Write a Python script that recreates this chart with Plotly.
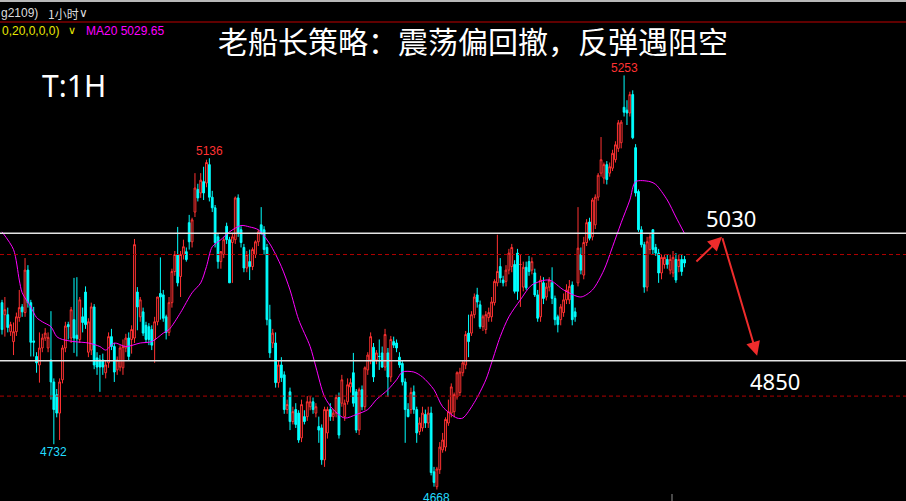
import plotly.graph_objects as go

# ---------------- data (1H candles) ----------------
opens = [
    4932,4915,4915,4891,4877,4891,4911,4926,4918,4978, 4932,4878,4856,4844,4868,4882,4868,4851,4820,4802,
    4776,4823,4868,4901,4882,4908,4886,4880,4912,4947, 4862,4865,4926,4854,4851,4851,4833,4847,4884,4870,
    4837,4841,4840,4868,4882,4880,4882,
    4947,4912,4919,4900,4898,4894,4880,4905,4945,4943, 4912,4890,4932,4976,5000,4969,5000,5004,5045,5018,
    5060,5092,5087,5103,5101,5127,5081,5066,5025,4990, 5000,5040,5021,5017,5021,5080,5035,5010,4981,4990,
    4983,5000,5018,5042,5035,
    5010,4908,4875,4875,4819,4844,4830,4781,4806,4764, 4781,4776,4741,4771,4771,4785,4792,4776,4757,4755,
    4710,4748,4781,4771,4776,4798,4790,4771,4792,4813, 4833,4806,4752,4809,4785,4837,4851,4869,4851,4856,
    4861,4841,4861,4827,4877,4875,4855,4846,4820,
    4781,4781,4806,4781,4750,4755,4774,4762,4776,4693, 4672,4696,4724,4728,4762,4776,4778,4799,4805,4833,
    4844,4889,4889,4915,4943,4929,4898,4894,4911,4912, 4932,4960,4983,4964,4962,4978,
    4983,4986,5002,4986,4954,4982,4990,4978,4974,4943, 4912,4960,4940,4954,4960,4938,4912,
    4908,4918,4936,4936,4957,4919,4960,5000,4971,5017, 5046,5025,5042,5081,5115,5108,5127,5115,5122,5134,
    5150,5158,5208,5204,5200,5226,5151,5089,5035,5014, 4954,5007,5035,5010,5002,4974,4986,4993,4978,4974,
    4993,4983,4993,4993,
]
highs = [
    4936,4940,4925,4905,4904,4918,4950,4930,4995,4985, 4936,4926,4862,4890,4888,4896,4890,4920,4825,4810,
    4825,4872,4905,4905,4926,4967,4968,4940,4925,4955, 4910,4932,4930,4862,4858,4860,4850,4890,4895,4875,
    4856,4872,4880,4888,4890,4900,5022,
    4954,4940,4925,4905,4903,4900,4912,4940,4996,4950, 4915,4940,4980,5005,5039,5005,5021,5010,5056,5052,
    5115,5100,5115,5124,5134,5136,5090,5070,5030,5005, 5025,5045,5025,5030,5082,5085,5040,5015,5005,5007,
    5010,5020,5035,5067,5040,
    5015,4929,4895,4890,4850,4855,4835,4795,4812,4785, 4790,4780,4795,4780,4800,4800,4798,4790,4771,4760,
    4785,4785,4790,4782,4802,4805,4830,4795,4825,4825, 4861,4810,4812,4815,4842,4862,4890,4875,4865,4880,
    4870,4895,4868,4885,4884,4880,4862,4850,4825,
    4790,4812,4815,4785,4770,4785,4781,4785,4785,4700, 4700,4735,4748,4770,4795,4818,4805,4835,4840,4850,
    4892,4915,4920,4945,4953,4935,4915,4920,4925,4940, 4965,5028,4995,4970,4985,5008,
    5015,4992,5008,5000,4990,4990,4998,4996,4980,4950, 4970,4968,4960,4968,4982,4942,4915,
    4930,4945,4958,4964,4962,4925,5067,5010,5025,5050, 5052,5080,5085,5115,5166,5130,5132,5130,5148,5160,
    5190,5190,5253,5218,5230,5232,5156,5092,5040,5018, 5025,5030,5036,5015,5008,5000,5000,5000,5000,5005,
    5002,5000,5000,4998,
]
lows = [
    4887,4884,4890,4885,4858,4885,4905,4912,4912,4925, 4856,4856,4833,4819,4862,4878,4862,4795,4732,4770,
    4738,4818,4862,4880,4875,4861,4856,4875,4890,4895, 4855,4858,4838,4830,4806,4830,4825,4840,4865,4820,
    4830,4835,4830,4862,4850,4860,4875,
    4893,4905,4885,4875,4872,4865,4847,4900,4908,4905, 4880,4885,4925,4970,4955,4940,4993,4990,5007,5010,
    5053,5075,5080,5077,5095,5075,5060,5010,4980,4980, 4995,5015,4960,4960,5015,5025,5010,4975,4975,4964,
    4978,4995,5012,5028,5000,
    4900,4854,4868,4812,4812,4820,4775,4775,4752,4760, 4755,4734,4735,4760,4765,4780,4775,4770,4734,4703,
    4700,4740,4765,4765,4770,4740,4785,4765,4788,4805, 4785,4748,4745,4780,4780,4830,4845,4820,4845,4837,
    4840,4836,4799,4820,4868,4862,4840,4815,4734,
    4770,4775,4775,4734,4745,4750,4755,4755,4688,4672, 4668,4690,4720,4722,4758,4770,4770,4795,4800,4828,
    4838,4855,4885,4910,4925,4895,4892,4888,4905,4905, 4928,4955,4960,4955,4955,4972,
    4975,4945,4936,4926,4948,4950,4970,4972,4940,4905, 4905,4930,4935,4948,4930,4900,4890,
    4900,4912,4930,4930,4900,4905,4955,4972,4965,5012, 5020,5020,5036,5076,5110,5100,5099,5110,5118,5130,
    5145,5150,5195,5183,5195,5163,5082,5032,5010,4946, 4948,5000,5000,4998,4960,4965,4980,4980,4972,4968,
    4960,4975,4970,4982,
]
closes = [
    4894,4922,4897,4901,4891,4912,4925,4919,4978,4932, 4876,4876,4847,4868,4882,4889,4883,4820,4781,4776,
    4820,4868,4899,4898,4922,4882,4881,4936,4904,4901, 4905,4926,4844,4841,4841,4841,4844,4884,4870,4834,
    4851,4868,4870,4882,4856,4894,5014,
    4926,4936,4889,4880,4880,4872,4905,4940,4940,4910, 4890,4932,4976,5000,4960,5000,5011,4993,5018,5049,
    5094,5080,5105,5087,5130,5081,5066,5017,4990,5004, 5021,5021,4960,5025,5080,5030,5017,4981,5000,4983,
    5007,5018,5032,5031,5007,
    4908,4861,4889,4819,4844,4826,4781,4788,4764,4778, 4760,4738,4788,4764,4792,4792,4781,4785,4752,4710,
    4781,4781,4771,4776,4798,4745,4823,4790,4816,4819, 4790,4752,4809,4785,4840,4858,4884,4827,4861,4856,
    4841,4887,4827,4880,4872,4868,4844,4820,4781,
    4771,4805,4781,4748,4762,4776,4762,4776,4692,4678, 4697,4728,4738,4767,4778,4813,4802,4833,4834,4847,
    4887,4877,4915,4940,4933,4898,4912,4915,4918,4933, 4962,4976,4967,4960,4978,5002,
    5010,4948,4948,4986,4982,4953,4976,4990,4943,4910, 4964,4938,4954,4964,4938,4908,4901,
    4926,4936,4950,4955,4908,4912,5009,4978,5017,5045, 5023,5077,5081,5112,5134,5127,5106,5124,5143,5155,
    5186,5187,5201,5200,5226,5165,5087,5035,5014,4954, 5018,5025,5007,5002,4974,4996,4996,4986,4993,4996,
    4964,4993,4976,4988,
]

# MA20 line (candle index, value)
ma_idx = [0,4,6,7,10,12,14,17,19,21,25,30,34,36,39,43,48,52,56,58,62,66,69,71,73,76,79,83,86,89,
          93,97,100,103,107,109,112,115,119,123,127,130,134,137,139,143,146,150,153,158,160,164,168,170,
          173,176,180,184,190,195,201,205,209,212,215,218,220,225,227,231,234,237]
ma_val = [5032,5007,4964,4946,4926,4911,4905,4898,4884,4880,4877,4875,4870,4865,4875,4870,4875,4877,4889,4894,
          4918,4946,4960,4983,5011,5021,5032,5041,5039,5035,5015,4983,4950,4908,4870,4841,4799,4781,4769,4774,
          4781,4795,4809,4823,4834,4834,4827,4809,4785,4769,4769,4791,4823,4847,4884,4912,4936,4957,4964,4950,
          4940,4950,4978,5011,5045,5077,5103,5103,5099,5077,5053,5029.65]

levels = [5030, 4850]          # resistance / target (solid white)
dashed_levels = [5000, 4800]   # dashed red guides
plan_points = [(240.6, 4988), (250.0, 5025), (262.2, 4857)]  # drawn arrows (index, price)

title_text = "老船长策略：震荡偏回撤，反弹遇阻空"
tf_text = "T:1H"

# ---------------- figure ----------------
W, H = 906, 501
X0_PX, STEP = 2.0, 2.88
Y_BOT, Y_TOP = 4651.8, 5359.6
RED, CYAN, MAG = "#ff3232", "#00ffff", "#ff00ff"

n = len(opens)
idx = list(range(n))


def px(x, y):
    return x / W, 1 - y / H


fig = go.Figure()
fig.add_trace(go.Candlestick(
    x=idx, open=opens, high=highs, low=lows, close=closes,
    increasing=dict(line=dict(color=RED, width=1), fillcolor="#000000"),
    decreasing=dict(line=dict(color=CYAN, width=1), fillcolor=CYAN),
    whiskerwidth=0, hoverinfo="skip", showlegend=False,
))
fig.add_trace(go.Scatter(
    x=ma_idx, y=ma_val, mode="lines",
    line=dict(color=MAG, width=1, shape="spline", smoothing=0.8),
    hoverinfo="skip", showlegend=False,
))

shapes = []
for lv in levels:
    shapes.append(dict(type="line", xref="paper", x0=0, x1=1, yref="y", y0=lv, y1=lv,
                       line=dict(color="#e4e4e4", width=1.5)))
for lv in dashed_levels:
    shapes.append(dict(type="line", xref="paper", x0=0, x1=1, yref="y", y0=lv, y1=lv,
                       line=dict(color="#b00000", width=1, dash="4px,3px")))
# header decorations
shapes.append(dict(type="rect", xref="paper", yref="paper", x0=0, x1=1, y0=1 - 2 / H, y1=1,
                   line=dict(width=0), fillcolor="#b8b8b8"))
shapes.append(dict(type="line", xref="paper", yref="paper", x0=0, x1=1, y0=1 - 22 / H, y1=1 - 22 / H,
                   line=dict(color="#c00000", width=1)))
shapes.append(dict(type="line", xref="paper", yref="paper", x0=672 / W, x1=672 / W, y0=0, y1=7 / H,
                   line=dict(color="#909090", width=1)))

ann = []
# arrows of the plan
for (ax_, ay_), (tx, ty) in zip(plan_points[:-1], plan_points[1:]):
    ann.append(dict(x=tx, y=ty, xref="x", yref="y", ax=ax_, ay=ay_, axref="x", ayref="y",
                    text="", showarrow=True, arrowhead=2, arrowsize=1.4, arrowwidth=2,
                    arrowcolor="#ee2c2c"))

BIG = "Noto Sans, Open Sans, sans-serif"
SMALL = "Liberation Sans, Arial, sans-serif"
CJK = "Noto Sans CJK SC, sans-serif"

x, y = px(473, 40)
ann.append(dict(x=x, y=y, xref="paper", yref="paper", text=title_text, showarrow=False,
                font=dict(family=CJK, size=30, color="#ffffff"), xanchor="center", yanchor="middle"))
x, y = px(40, 85)
ann.append(dict(x=x, y=y, xref="paper", yref="paper", text=tf_text, showarrow=False,
                font=dict(family=BIG, size=30, color="#ffffff"), xanchor="left", yanchor="middle"))
x, y = px(731, 218)
ann.append(dict(x=x, y=y, xref="paper", yref="paper", text=str(levels[0]), showarrow=False,
                font=dict(family=BIG, size=22, color="#ffffff"), xanchor="center", yanchor="middle"))
x, y = px(775, 381)
ann.append(dict(x=x, y=y, xref="paper", yref="paper", text=str(levels[1]), showarrow=False,
                font=dict(family=BIG, size=22, color="#ffffff"), xanchor="center", yanchor="middle"))

# header texts
x, y = px(-1, 13)
ann.append(dict(x=x, y=y, xref="paper", yref="paper", text="g2109)", showarrow=False,
                font=dict(family=SMALL, size=12, color="#dcdcdc"), xanchor="left", yanchor="middle"))
x, y = px(46, 13)
ann.append(dict(x=x, y=y, xref="paper", yref="paper", text="1小时", showarrow=False,
                font=dict(family=CJK, size=12, color="#dcdcdc"), xanchor="left", yanchor="middle"))
x, y = px(77, 13)
ann.append(dict(x=x, y=y, xref="paper", yref="paper", text="∨", showarrow=False,
                font=dict(family="DejaVu Sans", size=12, color="#dcdcdc"), xanchor="left", yanchor="middle"))
x, y = px(0, 31)
ann.append(dict(x=x, y=y, xref="paper", yref="paper", text="0,20,0,0,0)", showarrow=False,
                font=dict(family=SMALL, size=12, color="#e8e800"), xanchor="left", yanchor="middle"))
x, y = px(66, 31)
ann.append(dict(x=x, y=y, xref="paper", yref="paper", text="∨", showarrow=False,
                font=dict(family="DejaVu Sans", size=11, color="#e8e800"), xanchor="left", yanchor="middle"))
x, y = px(84, 31)
ann.append(dict(x=x, y=y, xref="paper", yref="paper", text=f"MA20 {ma_val[-1]:.2f}", showarrow=False,
                font=dict(family=SMALL, size=12, color=MAG), xanchor="left", yanchor="middle"))

# high / low markers computed from the data
def hi_in(a, b):
    i = max(range(a, b), key=lambda k: highs[k])
    return i, highs[i]


def lo_in(a, b):
    i = min(range(a, b), key=lambda k: lows[k])
    return i, lows[i]


for (i, v), col, shift in [(hi_in(0, n), RED, 7), (hi_in(55, 100), RED, 7),
                           (lo_in(0, 45), "#22ddff", -8), (lo_in(0, n), "#22ddff", -8)]:
    ann.append(dict(x=i, y=v, xref="x", yref="y", text=str(v), showarrow=False, yshift=shift,
                    font=dict(family=SMALL, size=12, color=col), xanchor="center", yanchor="middle"))

fig.update_layout(
    width=W, height=H, margin=dict(l=0, r=0, t=0, b=0, pad=0, autoexpand=False),
    paper_bgcolor="#000000", plot_bgcolor="#000000", boxgap=0.12,
    xaxis=dict(range=[-X0_PX / STEP, (W - X0_PX) / STEP], visible=False, showgrid=False,
               zeroline=False, rangeslider=dict(visible=False), fixedrange=True),
    yaxis=dict(range=[Y_BOT, Y_TOP], visible=False, showgrid=False, zeroline=False, fixedrange=True),
    shapes=shapes, annotations=ann, showlegend=False, hovermode=False,
)

fig.write_html(
    "out.html",
    config=dict(displayModeBar=False),
    post_script="document.body.style.margin='0';document.body.style.background='#000';"
                "document.body.style.overflow='hidden';",
)
